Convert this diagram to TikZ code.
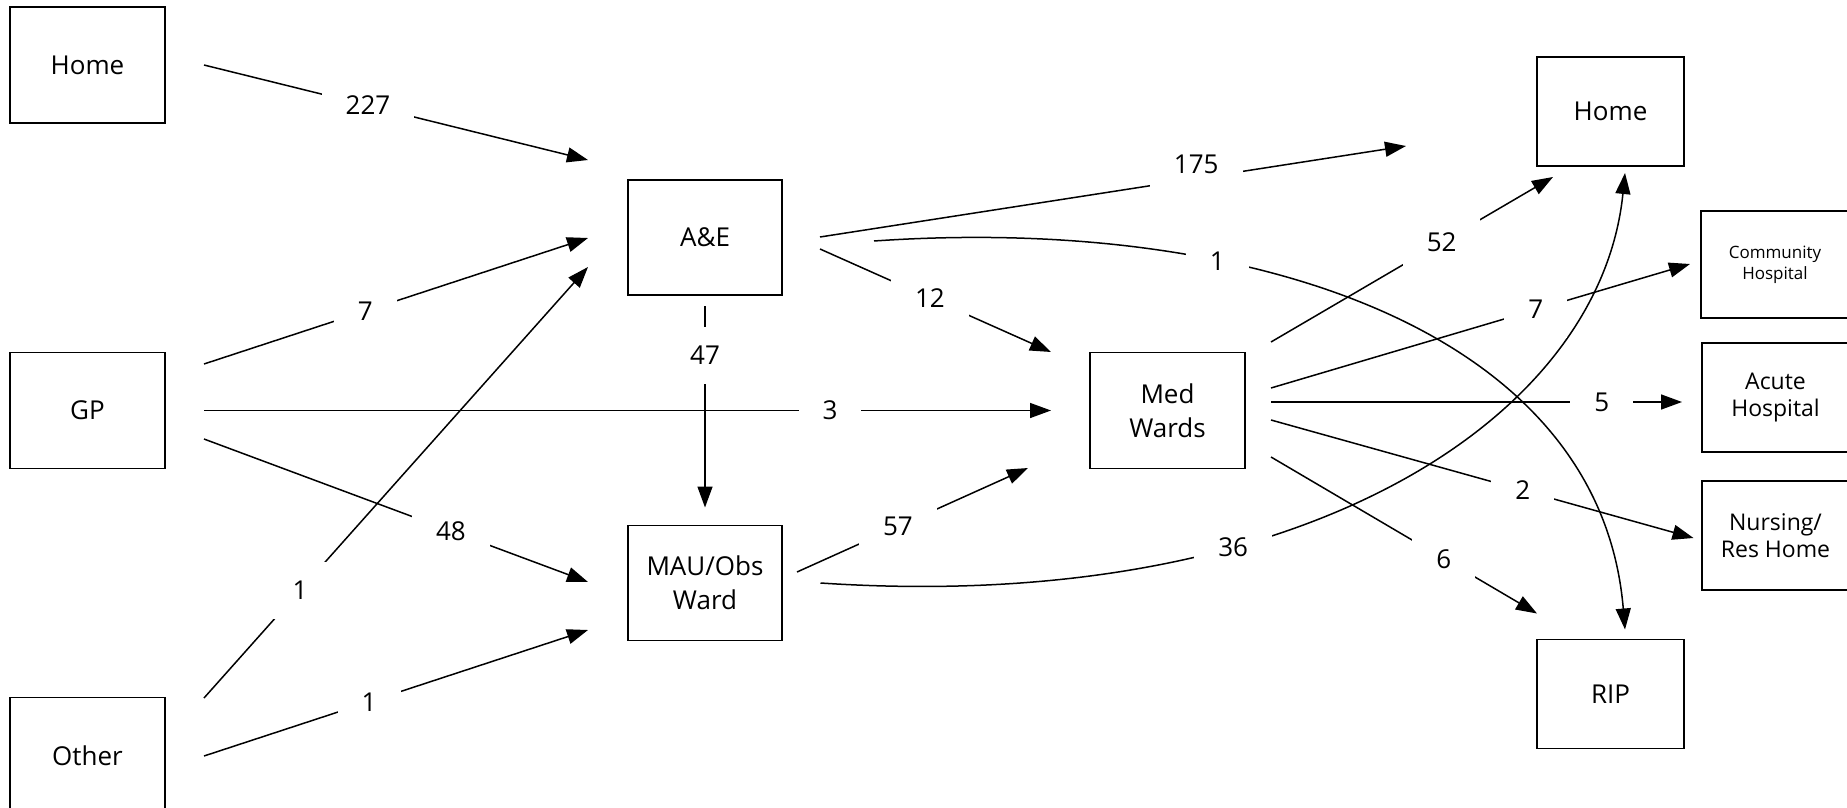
\documentclass[tikz,border=0pt]{standalone}
\usepackage{fontspec}
\setmainfont{Open Sans}
\usetikzlibrary{arrows.meta,calc}
\begin{document}
\begin{tikzpicture}[x=0.5pt,y=-0.5pt,
  box/.style={draw, line width=0.9pt, inner sep=0pt, outer sep=0pt, align=center, font=\fontsize{13}{17}\selectfont},
  lbox/.style={box, minimum width=77.5pt, minimum height=58pt},
  mbox/.style={box, minimum width=77pt, minimum height=57.5pt},
  rbox/.style={box, minimum width=73.5pt, minimum height=54.5pt},
  sbox/.style={rbox, font=\fontsize{11.5}{13.3}\selectfont},
  arr/.style={line width=0.75pt, -{Triangle[length=10.5pt,width=7.5pt]}},
  lbl/.style={fill=white, inner xsep=12pt, inner ysep=9.5pt, font=\fontsize{13}{15}\selectfont},
]
\useasboundingbox (0,0) rectangle (1847,808);

% boxes
\node[lbox] (hL) at (87.5,65) {Home};
\node[lbox] (gp) at (87.5,410.5) {GP};
\node[lbox] (oth) at (87.5,755.5) {Other};
\node[mbox] (ae) at (705,237.5) {A\&E};
\node[mbox] (mau) at (705,583) {MAU/Obs\\Ward};
\node[lbox] (med) at (1167.5,410.5) {Med\\Wards};
\node[rbox] (hR) at (1610.5,111.5) {Home};
\node[rbox] (rip) at (1610.5,694) {RIP};
\node[rbox, font=\fontsize{8.5}{10.5}\selectfont, minimum width=74pt, minimum height=53.5pt] (comm) at (1775,264.5) {Community\\Hospital};
\node[sbox] (acute) at (1775.5,397.5) {Acute\\Hospital};
\node[sbox] (nurs) at (1775.5,535.5) {Nursing/\\Res Home};

% curves
\draw[arr] ($(ae.east)+(92,3.5)$) .. controls (1250,215) and (1600,330) ..
  node[lbl,pos=0.32] {1} ($(rip.north)+(14.5,-10)$);
\draw[arr] ($(mau.east)+(38.5,0)$) .. controls (1300,615) and (1600,420) ..
  node[lbl,pos=0.33] {36} ($(hR.south)+(14.5,7)$);

% inputs
\draw[arr] ($(hL.east)+(39,0)$) -- node[lbl,pos=.427] {227} ($(ae.west)+(-40,-77.5)$);
\draw[arr] ($(gp.east)+(39,-46.5)$) -- node[lbl,pos=.42] {7} ($(ae.west)+(-40,0.5)$);
\draw[arr] ($(oth.east)+(39,-57.5)$) -- node[lbl,pos=.25] {1} ($(ae.west)+(-40,29.5)$);
\draw[arr] ($(gp.east)+(39,28.5)$) -- node[lbl,pos=.643] {48} ($(mau.west)+(-40,-1)$);
\draw[arr] ($(oth.east)+(39,0.5)$) -- node[lbl,pos=.43] {1} ($(mau.west)+(-40,47)$);
\draw[arr] ($(gp.east)+(39,0)$) -- node[lbl,pos=.739] {3} ($(med.west)+(-39,0)$);
\draw[arr] ($(ae.south)+(0,11)$) -- node[lbl,pos=.244] {47} ($(mau.north)+(0,-18)$);
\draw[arr] ($(ae.east)+(38,11.5)$) -- node[lbl,pos=.476] {12} ($(med.west)+(-39,-58.5)$);
\draw[arr] ($(ae.east)+(38,-0.5)$) -- node[lbl,pos=.642,yshift=7pt] {175} ($(hR.west)+(-131,34.5)$);
\draw[arr] ($(mau.east)+(15,-11)$) -- node[lbl,pos=.437] {57} ($(med.west)+(-62,57.5)$);

% outputs
\draw[arr] ($(med.east)+(26,-68.5)$) -- node[lbl,pos=.605] {52} ($(hR.south)+(-57.5,11)$);
\draw[arr] ($(med.east)+(26,-22.5)$) -- node[lbl,pos=.632] {7} ($(comm.west)+(-11,-0.5)$);
\draw[arr] ($(med.east)+(26,-8.5)$) -- node[lbl,pos=.805] {5} ($(acute.west)+(-20,4.5)$);
\draw[arr] ($(med.east)+(26,9.5)$) -- node[lbl,pos=.596] {2} ($(nurs.west)+(-8.5,2.5)$);
\draw[arr] ($(med.east)+(26,46.5)$) -- node[lbl,pos=.65] {6} ($(rip.north)+(-73.5,-26)$);
\end{tikzpicture}
\end{document}
